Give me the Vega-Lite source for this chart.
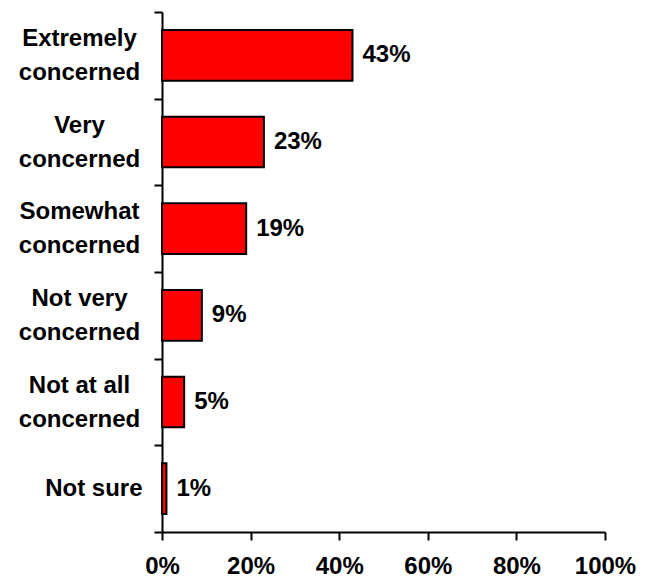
{
  "$schema": "https://vega.github.io/schema/vega-lite/v6.json",
  "width": 443,
  "height": 520,
  "autosize": "none",
  "padding": {"left": 162, "top": 12, "right": 49, "bottom": 51},
  "background": "white",
  "config": {
    "view": {"stroke": null},
    "font": "Liberation Sans"
  },
  "data": {
    "values": [
      {"level": "Extremely concerned", "share": 0.43},
      {"level": "Very concerned", "share": 0.23},
      {"level": "Somewhat concerned", "share": 0.19},
      {"level": "Not very concerned", "share": 0.09},
      {"level": "Not at all concerned", "share": 0.05},
      {"level": "Not sure", "share": 0.01}
    ]
  },
  "encoding": {
    "y": {
      "field": "level",
      "type": "nominal",
      "sort": null,
      "scale": {"paddingInner": 0, "paddingOuter": 0},
      "axis": {
        "title": null,
        "domainColor": "black",
        "domainWidth": 2,
        "tickColor": "black",
        "tickWidth": 2,
        "tickSize": 8,
        "tickBand": "extent",
        "labelAlign": {"condition": {"test": "datum.value == 'Not sure'", "value": "right"}, "value": "center"},
        "labelPadding": {"condition": {"test": "datum.value == 'Not sure'", "value": 12}, "value": 75},
        "labelFont": "Liberation Sans",
        "labelFontSize": 24,
        "labelFontWeight": "bold",
        "labelColor": "black",
        "labelLineHeight": 34,
        "labelLimit": 300,
        "labelOffset": {"condition": {"test": "datum.value == 'Not sure'", "value": 0}, "value": -17},
        "labelExpr": "!datum.value ? '' : datum.value == 'Not sure' ? 'Not sure' : split(replace(datum.value, ' concerned', '|concerned'), '|')"
      }
    },
    "x": {
      "field": "share",
      "type": "quantitative",
      "scale": {"domain": [0, 1], "nice": false},
      "axis": {
        "title": null,
        "values": [0, 0.2, 0.4, 0.6, 0.8, 1],
        "format": ".0%",
        "grid": false,
        "domainColor": "black",
        "domainWidth": 2,
        "tickColor": "black",
        "tickWidth": 2,
        "tickSize": 8,
        "labelPadding": 14,
        "labelFont": "Liberation Sans",
        "labelFontSize": 24,
        "labelFontWeight": "bold",
        "labelColor": "black",
        "labelFlush": false
      }
    }
  },
  "layer": [
    {
      "mark": {"type": "bar", "color": "#ff0000", "stroke": "black", "strokeWidth": 2, "height": {"band": 0.585}}
    },
    {
      "mark": {"type": "text", "align": "left", "baseline": "middle", "dx": 10, "font": "Liberation Sans", "fontSize": 24, "fontWeight": "bold", "color": "black"},
      "encoding": {
        "text": {"field": "share", "type": "quantitative", "format": ".0%"}
      }
    }
  ]
}
